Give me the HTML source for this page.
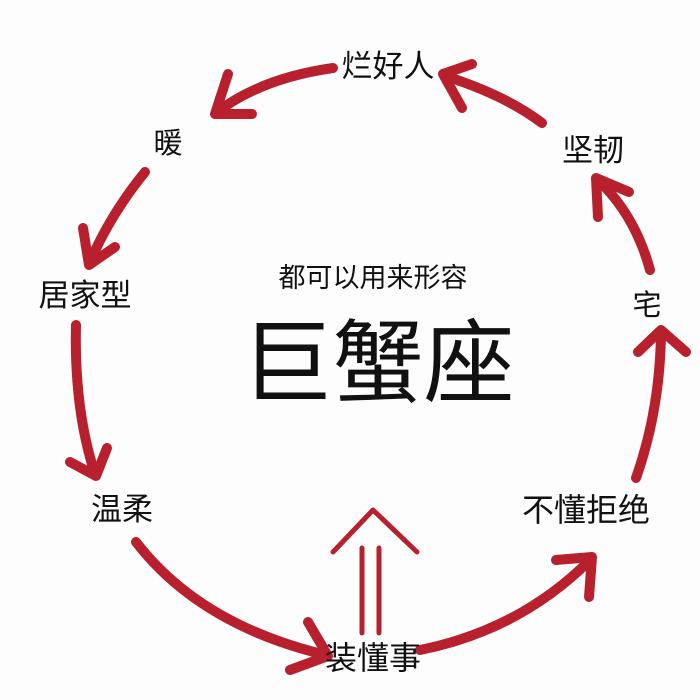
<!DOCTYPE html>
<html><head><meta charset="utf-8"><style>
html,body{margin:0;padding:0;background:#fff;}
svg{display:block;}
text{font-family:"Liberation Sans","Noto Sans CJK SC",sans-serif;fill:#111;}
</style></head><body>
<svg width="700" height="700" viewBox="0 0 700 700" xmlns="http://www.w3.org/2000/svg">
<rect width="700" height="700" fill="#fdfdfd"/>
<g fill="none" stroke="#b8202e" stroke-width="10" stroke-linecap="round" stroke-linejoin="round">
  <path d="M542,123 Q505,95 445,76"/>
  <path d="M462,108 L443,74 L472,64"/>
  <path d="M333,68 Q262,78 217,112"/>
  <path d="M228,74 L215,114 L252,114"/>
  <path d="M145,172 Q110,215 90,262"/>
  <path d="M83,228 L89,265 L115,247"/>
  <path d="M76,325 Q74,410 95,474"/>
  <path d="M70,462 L96,476 L107,448"/>
  <path d="M136,542 Q200,625 326,655"/>
  <path d="M308,622 L328,656 L290,670"/>
  <path d="M420,650 Q520,630 590,560"/>
  <path d="M556,560 L592,557 L589,597"/>
  <path d="M636,478 Q660,410 661,333"/>
  <path d="M638,352 L661,330 L686,352"/>
  <path d="M650,270 Q635,215 598,180"/>
  <path d="M598,217 L596,178 L629,192"/>
</g>
<g fill="none" stroke="#b8202e" stroke-width="5" stroke-linecap="round" stroke-linejoin="round">
  <path d="M362,633 L362,548"/>
  <path d="M379,633 L379,548"/>
  <path d="M333,552 L373,510 L417,552"/>
</g>
<text x="388" y="77" font-size="31" text-anchor="middle">烂好人</text>
<text x="168" y="153" font-size="29" text-anchor="middle">暖</text>
<text x="593" y="161" font-size="31" text-anchor="middle">坚韧</text>
<text x="85" y="306" font-size="31" text-anchor="middle">居家型</text>
<text x="373" y="287" font-size="27" text-anchor="middle">都可以用来形容</text>
<text x="647" y="315" font-size="29" text-anchor="middle">宅</text>
<text x="378" y="395" font-size="91" text-anchor="middle">巨蟹座</text>
<text x="122" y="520" font-size="31" text-anchor="middle">温柔</text>
<text x="586" y="521" font-size="32" text-anchor="middle">不懂拒绝</text>
<text x="373" y="669" font-size="32" text-anchor="middle">装懂事</text>
</svg>
</body></html>
